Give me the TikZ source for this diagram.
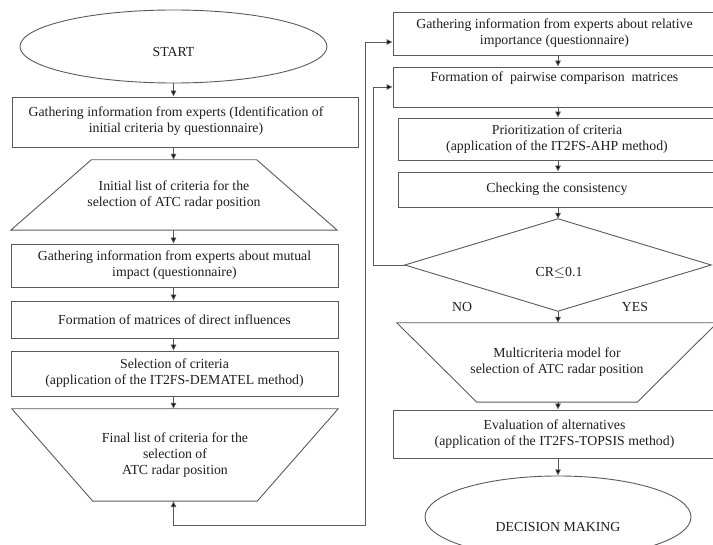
\documentclass[tikz,border=0pt]{standalone}
\usepackage{fontspec}
\setmainfont{Liberation Serif}
\usetikzlibrary{shapes.geometric,arrows.meta,calc}
\definecolor{linec}{HTML}{5A5A5A}
\definecolor{textc}{HTML}{1E1E1E}
\tikzset{
  every node/.style={font=\fontsize{13.8}{16}\selectfont, text=textc},
  box/.style={draw=linec, line width=0.9pt, rectangle, inner sep=0pt, align=center},
  shapebox/.style={inner sep=0pt, align=center},
  oval/.style={draw=linec, line width=0.9pt, ellipse, inner sep=0pt},
  conn/.style={draw=linec, line width=0.9pt},
  arr/.style={conn, -{Triangle[length=6pt,width=5.5pt,fill=black]}},
  arrboth/.style={conn, {Triangle[length=6pt,width=5.5pt,fill=black]}-{Triangle[length=6pt,width=5.5pt,fill=black]}},
  outline/.style={draw=linec, line width=0.9pt, line join=miter}
}
\begin{document}
\begin{tikzpicture}[x=1pt,y=-1pt]
\useasboundingbox (0,0) rectangle (713,545);
% ---------- left column ----------
\node[oval, minimum width=307, minimum height=73] (start) at (173.5,46.5) {};
\node (startlbl) at (173.5,52) {START};
\node[box, minimum width=346, minimum height=50] (b1) at (185,122) {};
\node[align=center, inner sep=0pt] (b1lbl) at (176,121)
  {Gathering information from experts (Identification of\\initial criteria by questionnaire)};
\node[shapebox, minimum width=326, minimum height=70] (t1) at (174,195)
  {Initial list of criteria for the\\selection of ATC radar position};
\draw[outline] ($(t1.north west)+(80.5,0)$) -- ($(t1.north east)+(-80.5,0)$)
  -- (t1.south east) -- (t1.south west) -- cycle;
\node[box, minimum width=327, minimum height=43] (b2) at (174.5,265.5)
  {Gathering information from experts about mutual\\impact (questionnaire)};
\node[box, minimum width=327, minimum height=37] (b3) at (174.5,319.5)
  {Formation of matrices of direct influences};
\node[box, minimum width=327, minimum height=45] (b4) at (174.5,373.5)
  {Selection of criteria\\(application of the IT2FS-DEMATEL method)};
\node[shapebox, minimum width=326, minimum height=92] (t2) at (175,455)
  {Final list of criteria for the\\selection of\\ATC radar position};
\draw[outline] (t2.north west) -- (t2.north east)
  -- ($(t2.south east)+(-81,0)$) -- ($(t2.south west)+(81,0)$) -- cycle;
% left arrows
\draw[arr] (start.south) -- (start.south |- b1.north);
\draw[arr] (b1.south -| start) -- (start |- t1.north);
\draw[arr] (t1.south -| start) -- (start |- b2.north);
\draw[arr] (b2.south -| start) -- (start |- b3.north);
\draw[arr] (b3.south -| start) -- (start |- b4.north);
\draw[arr] (b4.south -| start) -- (start |- t2.north);
% ---------- right column ----------
\node[box, minimum width=323, minimum height=43] (r1) at (554.5,33.5)
  {Gathering information from experts about relative\\importance (questionnaire)};
\node[box, minimum width=323, minimum height=40] (r2) at (554.5,87)
  {Formation of \ pairwise comparison \ matrices\\\strut};
\node[box, minimum width=318, minimum height=42] (r3) at (557,139)
  {Prioritization of criteria\\(application of the IT2FS-AHP method)};
\node[box, minimum width=318, minimum height=35] (r4) at (557,189.5)
  {Checking the consistency};
\node[shapebox, minimum width=306, minimum height=92] (dia) at (558,265) {};
\draw[outline] (dia.north) -- (dia.east) -- (dia.south) -- (dia.west) -- cycle;
\node (dialbl) at (559,273) {CR$\leq$0.1};
\node (no) at (462,307) {NO};
\node (yes) at (635,307) {YES};
\node[shapebox, minimum width=320, minimum height=79] (t3) at (557,362.5)
  {Multicriteria model for\\selection of ATC radar position};
\draw[outline] (t3.north west) -- (t3.north east)
  -- ($(t3.south east)+(-80,0)$) -- ($(t3.south west)+(80,0)$) -- cycle;
\node[box, minimum width=323, minimum height=48] (r5) at (554.5,434)
  {Evaluation of alternatives\\(application of the IT2FS-TOPSIS method)};
\node[oval, minimum width=266, minimum height=82] (dm) at (558,517) {};
\node (dmlbl) at (558,527) {DECISION MAKING};
% right arrows
\draw[arr] (r1.south -| dia) -- (r2.north -| dia);
\draw[arr] (r2.south -| dia) -- (r3.north -| dia);
\draw[arr] (r3.south -| dia) -- (r4.north -| dia);
\draw[arr] (r4.south -| dia) -- (dia.north);
\draw[arr] (dia.south) -- (t3.north -| dia);
\draw[arr] (t3.south -| dia) -- (r5.north -| dia);
\draw[arr] (r5.south -| dia) -- (dm.north);
% loops
\coordinate (oc) at (365,525);
\coordinate (ic) at (373,265);
\draw[arrboth] (t2.south -| start) |- (oc) |- ($(r1.west)+(0,8.5)$);
\draw[arr] (dia.west) -- (ic) |- (r2.west);
\end{tikzpicture}
\end{document}
